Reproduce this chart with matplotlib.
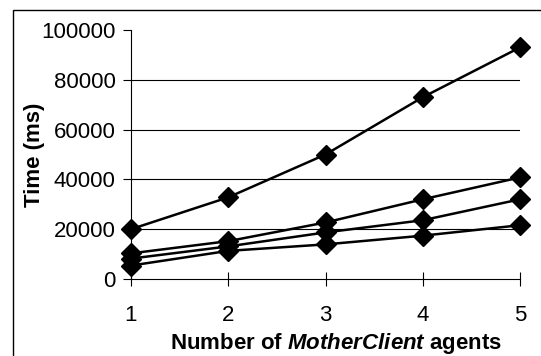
import matplotlib
matplotlib.use("Agg")
import matplotlib.pyplot as plt
from matplotlib.patches import Rectangle

# data
agents = [1, 2, 3, 4, 5]
series_a = [20000, 32800, 50000, 73000, 93000]
series_b = [10300, 15200, 22700, 32000, 40800]
series_c = [8200, 13100, 18700, 23600, 32000]
series_d = [5400, 11300, 13900, 17400, 21600]
y_ticks = [0, 20000, 40000, 60000, 80000, 100000]

plt.rcParams["font.family"] = ["Liberation Sans", "DejaVu Sans"]
plt.rcParams["mathtext.fontset"] = "custom"
plt.rcParams["mathtext.it"] = "Liberation Sans:italic:bold"

fig = plt.figure(figsize=(5.41, 3.56), dpi=100)
ax = fig.add_axes([131 / 541, 1 - 279 / 356, (520 - 131) / 541, (279 - 30) / 356])

for s in [series_a, series_b, series_c, series_d]:
    ax.plot(agents, s, color="black", lw=1.8, marker="D", ms=10.5, clip_on=False, zorder=3)

ax.set_xlim(1, 5)
ax.set_ylim(0, 100000)
ax.set_xticks(agents)
ax.set_yticks(y_ticks)
ax.set_yticklabels([str(v) for v in y_ticks])
for v in y_ticks[1:-1]:
    ax.axhline(v, color="black", lw=0.8, zorder=1)

ax.spines["top"].set_visible(False)
ax.spines["right"].set_visible(False)
ax.spines["left"].set_linewidth(0.8)
ax.spines["bottom"].set_linewidth(0.8)
ax.tick_params(axis="y", direction="out", length=6, width=0.8, labelsize=16, pad=5)
ax.tick_params(axis="x", direction="inout", length=10, width=0.8, labelsize=16, pad=14)

ax.set_xlabel("Number of $\\it{MotherClient}$ agents", fontsize=16, fontweight="bold")
ax.set_ylabel("Time (ms)", fontsize=16, fontweight="bold")
ax.xaxis.set_label_coords(0.527, -0.21)
ax.yaxis.set_label_coords(-0.221, 0.5)

# border around the whole chart, cut off on the right and bottom
fig.patches.append(Rectangle((13 / 541, -0.1), 1.2, 1.1 - 10 / 356,
                             transform=fig.transFigure, fill=False, edgecolor="black",
                             lw=1.0, clip_on=False))

fig.savefig("out.png", dpi=100)
